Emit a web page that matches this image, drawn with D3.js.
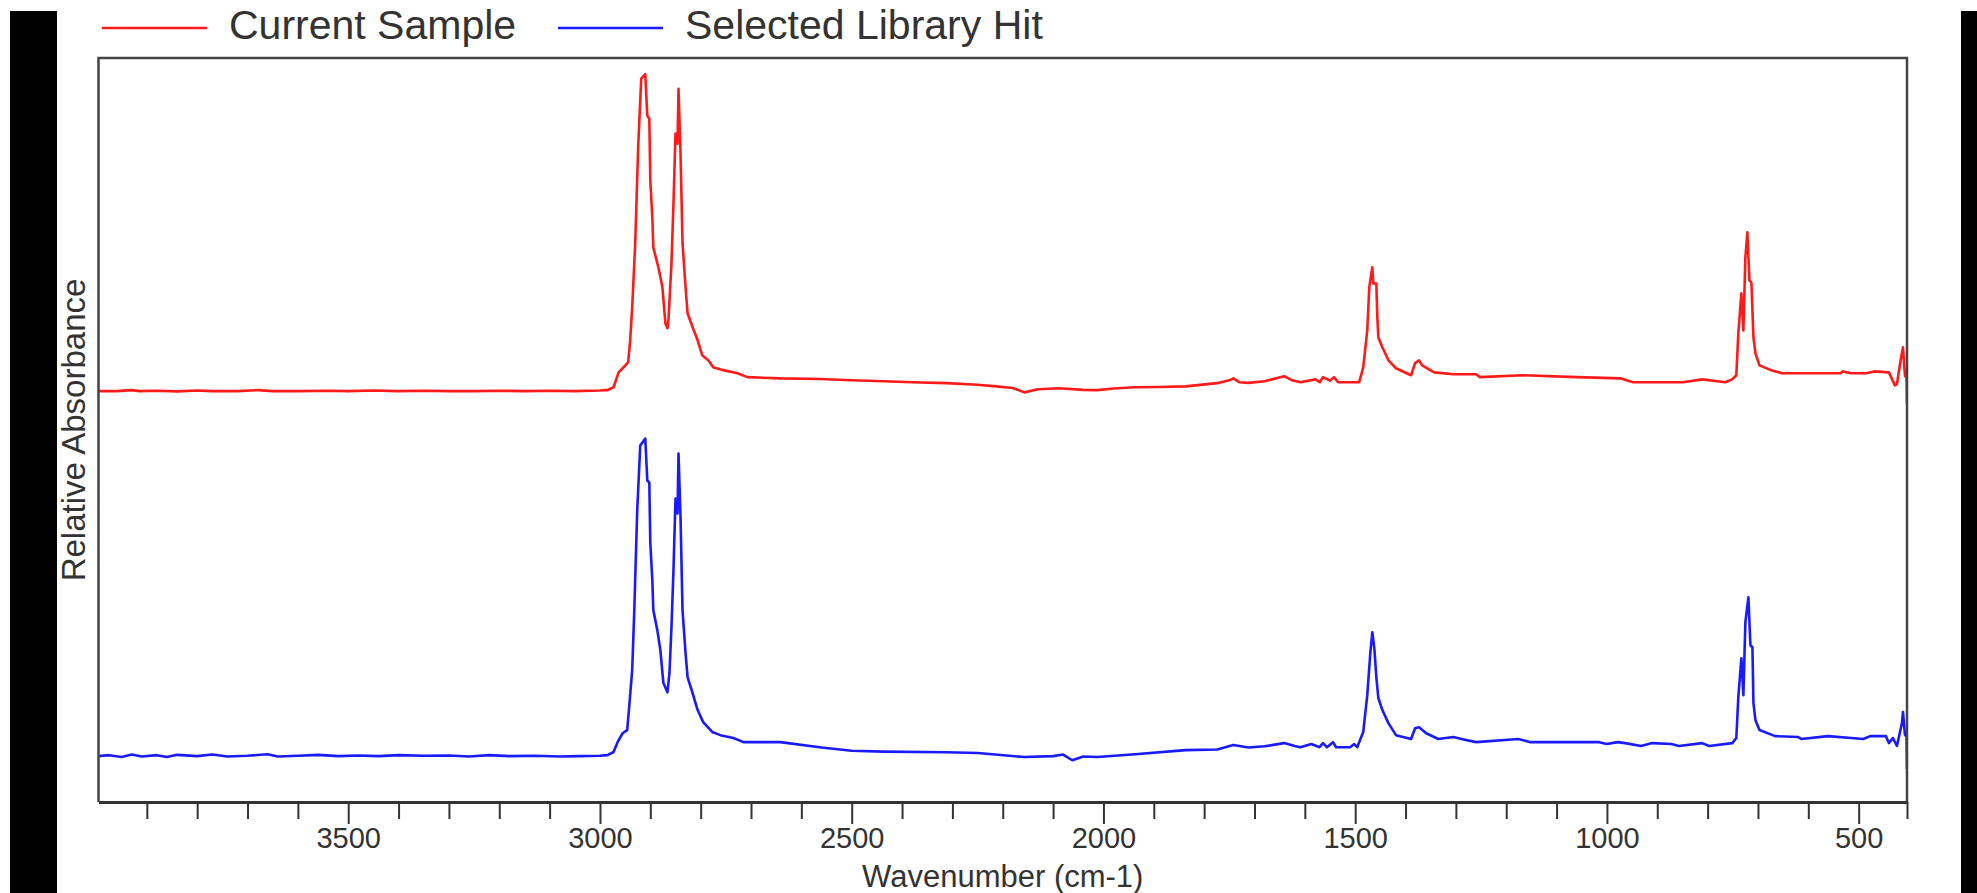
<!DOCTYPE html>
<html>
<head>
<meta charset="utf-8">
<script src="https://cdn.jsdelivr.net/npm/d3@7"></script>
<style>
  body { margin: 0; background: #fff; }
  svg { display: block; font-family: "Liberation Sans", Arial, sans-serif; }
</style>
</head>
<body>
<div id="chart"></div>
<script>
// series names
const seriesNames = ["Current Sample", "Selected Library Hit"];

// x axis ticks (cm-1)
const majorTicks = [3500, 3000, 2500, 2000, 1500, 1000, 500];
const minorTicks = [3900, 3800, 3700, 3600, 3400, 3300, 3200, 3100, 2900, 2800, 2700, 2600,
                    2400, 2300, 2200, 2100, 1900, 1800, 1700, 1600, 1400, 1300, 1200, 1100,
                    900, 800, 700, 600, 404];

// current sample: wavenumber / relative absorbance
const sampleWn = [3996, 3960, 3930, 3915, 3880, 3840, 3800, 3770, 3720, 3680, 3650, 3600, 3540, 3500,
  3450, 3400, 3350, 3300, 3250, 3200, 3150, 3100, 3050, 3000, 2989, 2985, 2973, 2963, 2953, 2944,
  2940, 2936, 2930, 2924, 2918, 2910, 2906, 2902, 2900, 2896, 2894, 2884, 2876, 2870, 2866, 2864,
  2858, 2854, 2850, 2846, 2844, 2840, 2836, 2830, 2826, 2816, 2806, 2797, 2785, 2775, 2755, 2727,
  2707, 2642, 2562, 2500, 2437, 2380, 2312, 2250, 2213, 2180, 2157, 2130, 2088, 2040, 2012, 1980,
  1937, 1890, 1837, 1774, 1750, 1742, 1730, 1712, 1680, 1641, 1625, 1609, 1579, 1570, 1564, 1550,
  1542, 1534, 1492, 1484, 1476, 1472, 1466, 1464, 1458, 1456, 1454, 1446, 1434, 1419, 1389, 1381,
  1373, 1367, 1343, 1305, 1260, 1252, 1168, 1061, 972, 948, 849, 811, 765, 751, 743, 739, 733, 729,
  725, 721, 717, 713, 709, 705, 697, 674, 652, 620, 537, 531, 515, 485, 469, 440, 428, 424, 418,
  412, 408, 405, 404];
const sampleAbs = [0.002, 0.002, 0.005, 0.002, 0.003, 0.001, 0.004, 0.002, 0.002, 0.005, 0.002, 0.002,
  0.003, 0.002, 0.004, 0.002, 0.003, 0.002, 0.002, 0.003, 0.002, 0.003, 0.002, 0.004, 0.005, 0.005,
  0.014, 0.061, 0.077, 0.093, 0.162, 0.266, 0.467, 0.775, 0.986, 1.0, 0.869, 0.86, 0.665, 0.549,
  0.454, 0.392, 0.329, 0.215, 0.2, 0.225, 0.404, 0.593, 0.813, 0.781, 0.954, 0.75, 0.467, 0.329,
  0.247, 0.203, 0.162, 0.115, 0.099, 0.077, 0.068, 0.058, 0.046, 0.042, 0.040, 0.036, 0.033, 0.030,
  0.027, 0.022, 0.017, 0.012, -0.002, 0.008, 0.011, 0.006, 0.005, 0.010, 0.014, 0.015, 0.017, 0.027,
  0.036, 0.042, 0.030, 0.028, 0.033, 0.049, 0.036, 0.030, 0.039, 0.030, 0.046, 0.035, 0.046, 0.030,
  0.030, 0.077, 0.193, 0.329, 0.392, 0.341, 0.341, 0.234, 0.171, 0.140, 0.099, 0.074, 0.052, 0.090,
  0.099, 0.083, 0.061, 0.055, 0.055, 0.046, 0.052, 0.046, 0.042, 0.030, 0.030, 0.039, 0.030, 0.039,
  0.052, 0.184, 0.310, 0.193, 0.423, 0.502, 0.351, 0.344, 0.171, 0.121, 0.083, 0.068, 0.058, 0.058,
  0.058, 0.064, 0.058, 0.058, 0.064, 0.061, 0.020, 0.024, 0.086, 0.140, 0.049, 0.058, -0.039];

// selected library hit: wavenumber / relative absorbance
const libraryWn = [3996, 3975, 3950, 3930, 3910, 3880, 3860, 3840, 3800, 3770, 3740, 3700, 3660, 3640,
  3600, 3560, 3520, 3480, 3440, 3400, 3350, 3300, 3260, 3220, 3180, 3130, 3080, 3040, 3000, 2985,
  2973, 2965, 2955, 2946, 2942, 2936, 2932, 2926, 2920, 2910, 2906, 2902, 2900, 2896, 2894, 2886,
  2880, 2874, 2866, 2862, 2858, 2854, 2850, 2846, 2844, 2840, 2836, 2830, 2826, 2816, 2806, 2795,
  2777, 2761, 2735, 2715, 2642, 2560, 2500, 2437, 2312, 2250, 2187, 2157, 2100, 2080, 2062, 2040,
  2012, 1937, 1837, 1774, 1742, 1712, 1680, 1641, 1620, 1609, 1587, 1571, 1564, 1556, 1544, 1538,
  1510, 1502, 1496, 1484, 1476, 1470, 1466, 1462, 1458, 1454, 1446, 1434, 1419, 1389, 1381, 1373,
  1359, 1335, 1305, 1289, 1260, 1176, 1152, 1015, 1001, 978, 964, 932, 910, 872, 857, 811, 797, 751,
  743, 739, 733, 729, 725, 719, 715, 711, 709, 705, 697, 666, 620, 614, 561, 515, 491, 477, 446, 440,
  432, 424, 414, 412, 408, 405, 404];
const libraryAbs = [0.003, 0.006, 0.000, 0.008, 0.002, 0.006, 0.000, 0.007, 0.003, 0.008, 0.002, 0.004,
  0.009, 0.002, 0.004, 0.007, 0.003, 0.005, 0.003, 0.006, 0.004, 0.005, 0.002, 0.006, 0.003, 0.004,
  0.002, 0.003, 0.004, 0.006, 0.016, 0.047, 0.075, 0.085, 0.157, 0.274, 0.453, 0.777, 0.981, 1.003,
  0.871, 0.865, 0.673, 0.557, 0.462, 0.399, 0.336, 0.233, 0.204, 0.264, 0.409, 0.588, 0.814, 0.767,
  0.956, 0.755, 0.462, 0.327, 0.252, 0.201, 0.148, 0.110, 0.079, 0.069, 0.060, 0.047, 0.047, 0.030,
  0.020, 0.017, 0.015, 0.013, 0.004, 0.000, 0.003, 0.008, -0.010, 0.002, 0.000, 0.009, 0.022, 0.024,
  0.038, 0.030, 0.034, 0.044, 0.035, 0.031, 0.041, 0.031, 0.044, 0.031, 0.047, 0.031, 0.031, 0.041,
  0.031, 0.079, 0.195, 0.327, 0.393, 0.343, 0.252, 0.186, 0.148, 0.107, 0.069, 0.057, 0.091, 0.094,
  0.075, 0.057, 0.063, 0.057, 0.047, 0.057, 0.047, 0.047, 0.041, 0.047, 0.044, 0.035, 0.044, 0.041,
  0.035, 0.044, 0.035, 0.044, 0.060, 0.189, 0.311, 0.195, 0.425, 0.503, 0.352, 0.346, 0.170, 0.116,
  0.085, 0.066, 0.063, 0.057, 0.066, 0.060, 0.057, 0.066, 0.066, 0.044, 0.060, 0.035, 0.107, 0.142,
  0.069, 0.069, -0.038];

// vertical stacking of the two traces (absorbance units)
const sampleOffset = 1.292;
const libraryOffset = 0.1415;

function chart(){

  let w = 1977;
  let h = 893;
  let left = 98.5, right = 1907, top = 58, bottom = 802;

  const xScale = d3.scaleLinear()
                   .domain([3996, 404])
                   .range([left, right]);

  const yScale = d3.scaleLinear()
                   .domain([0, 2.343])
                   .range([bottom, top]);

  const svg = d3.select("#chart")
                .append("svg")
                .attr("width", w)
                .attr("height", h);

  // black side bars
  svg.append("rect").attr("x", 10).attr("y", 11).attr("width", 47).attr("height", h - 11).attr("fill", "#000");
  svg.append("rect").attr("x", 1961).attr("y", 11).attr("width", 16).attr("height", h - 11).attr("fill", "#000");

  svg.append("defs").append("clipPath").attr("id", "plot")
     .append("rect").attr("x", left).attr("y", top).attr("width", right - left).attr("height", bottom - top + 1);

  const line = d3.line()
                 .x(d => xScale(d[0]))
                 .y(d => yScale(d[1]));

  const sample = sampleWn.map((v, i) => [v, sampleAbs[i] + sampleOffset]);
  const library = libraryWn.map((v, i) => [v, libraryAbs[i] + libraryOffset]);

  svg.append("path")
     .datum(sample)
     .attr("clip-path", "url(#plot)")
     .attr("fill", "none")
     .attr("stroke", "#ff1a1a")
     .attr("stroke-width", 2.6)
     .attr("stroke-linejoin", "round")
     .attr("d", line);

  svg.append("path")
     .datum(library)
     .attr("clip-path", "url(#plot)")
     .attr("fill", "none")
     .attr("stroke", "#1a1aff")
     .attr("stroke-width", 2.6)
     .attr("stroke-linejoin", "round")
     .attr("d", line);

  // frame
  svg.append("path")
     .attr("d", "M" + left + "," + bottom + "V" + top + "H" + right + "V" + bottom)
     .attr("fill", "none")
     .attr("stroke", "#444")
     .attr("stroke-width", 2.5);

  const xMinor = d3.axisBottom(xScale).tickValues(minorTicks).tickSize(17).tickSizeOuter(0).tickFormat("");
  const xMajor = d3.axisBottom(xScale).tickValues(majorTicks).tickSize(22).tickSizeOuter(0)
                   .tickPadding(3).tickFormat(d3.format("d"));

  svg.append("g")
     .attr("class", "minor")
     .attr("transform", "translate(0, " + bottom + ")")
     .call(xMinor);

  svg.append("g")
     .attr("id", "x-axis")
     .attr("transform", "translate(0, " + bottom + ")")
     .call(xMajor);

  svg.selectAll(".minor path").remove();
  svg.selectAll("line").attr("stroke", "#333").attr("stroke-width", 2);
  svg.select("#x-axis path").attr("stroke", "#333").attr("stroke-width", 3);
  svg.selectAll("#x-axis text")
     .attr("font-size", 29)
     .attr("font-family", "Liberation Sans, Arial, sans-serif")
     .attr("fill", "#333");

  // axis titles
  svg.append("text")
     .attr("x", (left + right) / 2)
     .attr("y", 887)
     .attr("text-anchor", "middle")
     .attr("font-size", 31)
     .attr("fill", "#333")
     .text("Wavenumber (cm-1)");

  svg.append("text")
     .attr("transform", "translate(85, 430) rotate(-90)")
     .attr("text-anchor", "middle")
     .attr("font-size", 33)
     .attr("fill", "#333")
     .text("Relative Absorbance");

  // legend
  const legendX = [102, 558];
  const colors = ["#ff1a1a", "#1a1aff"];
  seriesNames.forEach((name, i) => {
    svg.append("line")
       .attr("x1", legendX[i]).attr("x2", legendX[i] + 105)
       .attr("y1", 28).attr("y2", 28)
       .attr("stroke", colors[i])
       .attr("stroke-width", 2.6);
    svg.append("text")
       .attr("x", legendX[i] + 127)
       .attr("y", 39)
       .attr("font-size", 41)
       .attr("fill", "#333")
       .text(name);
  });
}

chart();
</script>
</body>
</html>
